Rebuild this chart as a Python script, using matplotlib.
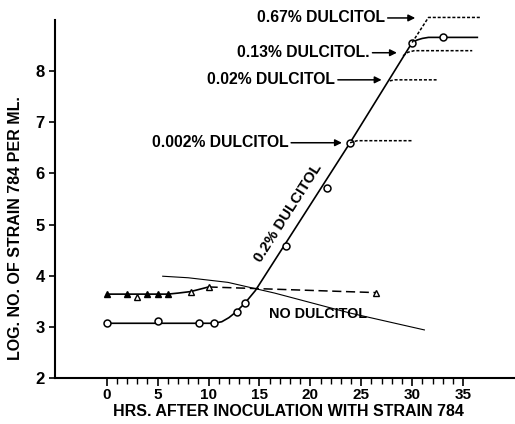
import matplotlib
matplotlib.use("Agg")
import matplotlib.pyplot as plt

plt.rcParams['font.family'] = ['Liberation Sans', 'DejaVu Sans']
plt.rcParams['font.weight'] = 'bold'
plt.rcParams['axes.labelweight'] = 'bold'

# 0.2% dulcitol: measured points (open circles)
circ_x = [0, 5, 9.1, 10.5, 12.75, 13.6, 17.6, 21.6, 23.9, 30.0, 33.05]
circ_y = [3.07, 3.11, 3.07, 3.07, 3.30, 3.47, 4.59, 5.72, 6.60, 8.56, 8.66]
# drawn curve through them
curve_x = [0, 10.5, 11.3, 12.0, 12.75, 13.6, 14.6, 23.9, 30.0, 30.5, 31.0, 31.6, 32.5, 36.4]
curve_y = [3.07, 3.07, 3.10, 3.18, 3.30, 3.47, 3.71, 6.60, 8.56, 8.61, 8.64, 8.66, 8.66, 8.66]

# plateaus for other concentrations (dashed)
p0002_x = [23.9, 24.6, 30.0]
p0002_y = [6.60, 6.64, 6.64]
p002_x = [27.8, 28.3, 32.4]
p002_y = [7.81, 7.83, 7.83]
p013_x = [29.1, 29.6, 30.2, 35.9]
p013_y = [8.30, 8.37, 8.40, 8.40]
p067_x = [30.0, 31.6, 36.7]
p067_y = [8.56, 9.05, 9.05]

# triangles (second strain series)
tri_x = [0, 2, 4, 5, 6]
tri_y = [3.64, 3.64, 3.64, 3.64, 3.64]
tri_open_x = [3, 8.25, 10, 26.4]
tri_open_y = [3.58, 3.69, 3.78, 3.67]
tri_line_x = [0, 6, 7, 8.25, 10]
tri_line_y = [3.64, 3.64, 3.66, 3.69, 3.78]
tri_dash_x = [10, 26.4]
tri_dash_y = [3.78, 3.67]

# no dulcitol
nod_x = [5.5, 8, 11.9, 16.5, 23.9, 31.2]
nod_y = [3.99, 3.96, 3.87, 3.66, 3.27, 2.94]

fig = plt.figure(figsize=(5.15, 4.24), dpi=100)
ax = fig.add_axes([55/515, 46/424, 460/515, 358/424])

ax.plot(curve_x, curve_y, color='black', lw=1.2)
ax.plot(circ_x, circ_y, 'o', mfc='white', mec='black', ms=5, mew=1.1)
for px, py in [(p0002_x, p0002_y), (p002_x, p002_y), (p013_x, p013_y), (p067_x, p067_y)]:
    ax.plot(px, py, color='black', lw=1.1, dashes=(2, 1.2), clip_on=False)

ax.plot(tri_line_x, tri_line_y, color='black', lw=1.2)
ax.plot(tri_dash_x, tri_dash_y, color='black', lw=1.1, dashes=(6, 3))
ax.plot(tri_x, tri_y, '^', color='black', ms=4.5)
ax.plot(tri_open_x, tri_open_y, '^', mfc='white', mec='black', ms=4.5, mew=1.0)

ax.plot(nod_x, nod_y, color='black', lw=0.8)

fs = 11.3
arrow = dict(arrowstyle='-|>', color='black', lw=1.1, shrinkA=0, shrinkB=0, mutation_scale=10)
ax.annotate('0.67% DULCITOL', xy=(30.3, 9.04), xytext=(14.75, 9.04), fontsize=fs,
            va='center', ha='left', arrowprops=arrow, annotation_clip=False)
ax.annotate('0.13% DULCITOL.', xy=(28.5, 8.36), xytext=(12.8, 8.36), fontsize=fs,
            va='center', ha='left', arrowprops=arrow)
ax.annotate('0.02% DULCITOL', xy=(27.0, 7.83), xytext=(9.87, 7.83), fontsize=fs,
            va='center', ha='left', arrowprops=arrow)
ax.annotate('0.002% DULCITOL', xy=(23.1, 6.60), xytext=(4.42, 6.60), fontsize=fs,
            va='center', ha='left', arrowprops=arrow)

ax.text(17.84, 5.22, '0.2% DULCITOL', fontsize=10.8, rotation=57.5,
        rotation_mode='anchor', ha='center', va='center')
ax.text(15.95, 3.25, 'NO DULCITOL', fontsize=10.4, ha='left', va='center')

ax.set_xlim(-5.08, 40.1)
ax.set_ylim(2, 9.0)
ax.spines['top'].set_visible(False)
ax.spines['right'].set_visible(False)
ax.spines['left'].set_linewidth(1.5)
ax.spines['bottom'].set_linewidth(1.5)

ax.set_xticks([0, 5, 10, 15, 20, 25, 30, 35])
ax.set_xticks(list(range(0, 36)), minor=True)
ax.set_yticks([2, 3, 4, 5, 6, 7, 8])
ax.tick_params(axis='x', which='major', direction='out', length=6, width=1.2, pad=1.5, labelsize=11)
ax.tick_params(axis='x', which='minor', direction='out', length=4, width=1.0)
ax.tick_params(axis='y', which='major', direction='out', length=4.5, width=1.2, pad=3, labelsize=12)

ax.set_xlabel('HRS. AFTER INOCULATION WITH STRAIN 784', fontsize=11.5)
ax.set_ylabel('LOG. NO. OF STRAIN 784 PER ML.', fontsize=11.5)
ax.xaxis.set_label_coords((288 - 55) / 460, (378 - 404) / 358)
ax.yaxis.set_label_coords((23 - 55) / 460, (378 - 228) / 358)

fig.savefig('out.png', dpi=100)
